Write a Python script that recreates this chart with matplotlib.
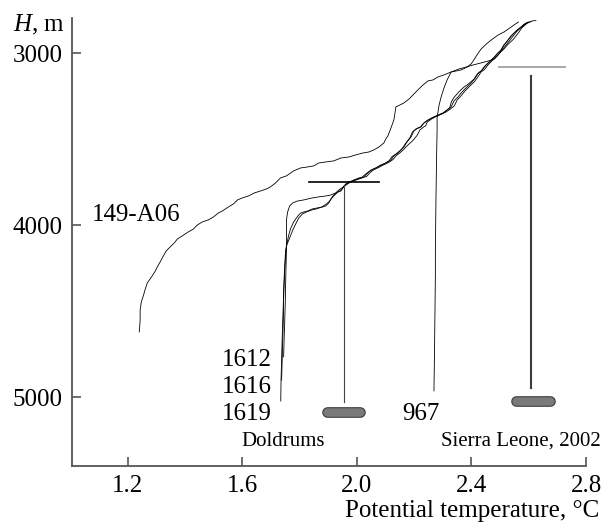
import matplotlib
matplotlib.use('Agg')
import matplotlib.pyplot as plt
import matplotlib.patheffects as pe

plt.rcParams['font.family'] = ['Liberation Serif', 'DejaVu Serif']
plt.rcParams['mathtext.fontset'] = 'custom'
plt.rcParams['mathtext.rm'] = 'Liberation Serif'
plt.rcParams['mathtext.it'] = 'Liberation Serif:italic'

######################################
# Data
# potential temperature (deg C) and depth H (m)

a06_T = [1.240, 1.243, 1.243, 1.247, 1.254, 1.261, 1.268, 1.278, 1.285, 1.296,
         1.303, 1.313, 1.324, 1.334, 1.348, 1.362, 1.373, 1.390, 1.411, 1.429,
         1.443, 1.460, 1.481, 1.499, 1.516, 1.530, 1.551, 1.569, 1.583, 1.600,
         1.621, 1.642, 1.663, 1.684, 1.698, 1.716, 1.733, 1.754, 1.779, 1.803,
         1.828, 1.849, 1.867, 1.891, 1.919, 1.944, 1.972, 1.996, 2.021, 2.042,
         2.059, 2.077, 2.094, 2.101, 2.108, 2.119, 2.129, 2.133, 2.136, 2.150,
         2.164, 2.182, 2.199, 2.213, 2.227, 2.248, 2.266, 2.283, 2.304, 2.329,
         2.347, 2.364, 2.385, 2.399, 2.413, 2.424, 2.434, 2.452, 2.469, 2.493,
         2.514, 2.539, 2.564]
a06_H = [4620, 4551, 4492, 4446, 4411, 4370, 4335, 4312, 4295, 4266,
         4242, 4213, 4179, 4149, 4126, 4103, 4080, 4062, 4039, 4022,
         3998, 3981, 3969, 3952, 3929, 3917, 3894, 3876, 3853, 3841,
         3830, 3812, 3801, 3789, 3777, 3754, 3725, 3713, 3684, 3667,
         3661, 3655, 3638, 3632, 3626, 3609, 3603, 3591, 3580, 3574,
         3562, 3545, 3522, 3498, 3481, 3434, 3388, 3347, 3312, 3301,
         3289, 3266, 3237, 3213, 3190, 3161, 3155, 3138, 3126, 3109,
         3103, 3097, 3080, 3062, 3027, 2998, 2975, 2946, 2923, 2894,
         2876, 2847, 2818]

s1612_T = [1.744, 1.746, 1.748, 1.750, 1.751, 1.752, 1.753, 1.754, 1.754, 1.754,
           1.758, 1.765, 1.776, 1.793, 1.814, 1.839, 1.867, 1.891, 1.909, 1.926,
           1.937, 1.950, 1.962, 1.980, 2.000, 2.016, 2.030, 2.044, 2.060, 2.080,
           2.095, 2.112, 2.122, 2.136, 2.150, 2.160, 2.170, 2.184, 2.194, 2.206,
           2.220, 2.230, 2.244, 2.262, 2.280, 2.298, 2.310, 2.324, 2.330, 2.338,
           2.350, 2.360, 2.374, 2.389, 2.409, 2.420, 2.434, 2.444, 2.455, 2.466,
           2.478, 2.491, 2.502, 2.512, 2.526, 2.537, 2.547, 2.562, 2.572, 2.583,
           2.597]
s1612_H = [4765, 4650, 4551, 4440, 4347, 4270, 4202, 4120, 4057, 3969,
           3923, 3888, 3870, 3859, 3853, 3843, 3835, 3830, 3824, 3812,
           3795, 3780, 3758, 3745, 3733, 3724, 3703, 3686, 3672, 3655,
           3643, 3626, 3602, 3586, 3568, 3550, 3524, 3494, 3458, 3440,
           3432, 3412, 3394, 3376, 3364, 3352, 3336, 3318, 3282, 3259,
           3236, 3218, 3196, 3179, 3150, 3121, 3103, 3080, 3062, 3045,
           3027, 3001, 2984, 2955, 2926, 2902, 2885, 2862, 2850, 2833,
           2820]

s1616_T = [1.737, 1.739, 1.741, 1.743, 1.744, 1.746, 1.748, 1.751, 1.755, 1.765,
           1.776, 1.786, 1.797, 1.810, 1.824, 1.842, 1.859, 1.877, 1.894, 1.905,
           1.916, 1.930, 1.942, 1.956, 1.975, 1.998, 2.018, 2.034, 2.046, 2.058,
           2.075, 2.093, 2.110, 2.126, 2.137, 2.151, 2.163, 2.174, 2.195, 2.210,
           2.220, 2.232, 2.240, 2.246, 2.260, 2.278, 2.293, 2.311, 2.326, 2.340,
           2.350, 2.363, 2.374, 2.384, 2.398, 2.409, 2.422, 2.433, 2.447, 2.457,
           2.468, 2.478, 2.489, 2.502, 2.513, 2.528, 2.547, 2.558, 2.566, 2.575,
           2.583, 2.594, 2.608]
s1616_H = [4901, 4780, 4667, 4550, 4434, 4340, 4260, 4173, 4115, 4074,
           4028, 3993, 3958, 3934, 3923, 3911, 3905, 3894, 3876, 3859,
           3835, 3812, 3798, 3772, 3752, 3736, 3725, 3716, 3694, 3678,
           3665, 3649, 3636, 3618, 3596, 3578, 3560, 3540, 3508, 3478,
           3446, 3430, 3422, 3400, 3383, 3366, 3355, 3342, 3325, 3306,
           3272, 3249, 3226, 3208, 3185, 3168, 3139, 3110, 3092, 3069,
           3051, 3034, 3017, 2993, 2976, 2947, 2918, 2894, 2877, 2854,
           2842, 2825, 2815]

s1619_T = [1.734, 1.735, 1.737, 1.739, 1.741, 1.743, 1.744, 1.746, 1.748, 1.751,
           1.757, 1.761, 1.768, 1.779, 1.786, 1.797, 1.804, 1.814, 1.828, 1.845,
           1.863, 1.880, 1.891, 1.902, 1.909, 1.919, 1.933, 1.944, 1.954, 1.968,
           1.989, 2.007, 2.024, 2.038, 2.049, 2.066, 2.084, 2.101, 2.119, 2.129,
           2.143, 2.154, 2.164, 2.175, 2.189, 2.199, 2.213, 2.224, 2.234, 2.248,
           2.269, 2.283, 2.301, 2.315, 2.329, 2.339, 2.353, 2.364, 2.374, 2.388,
           2.399, 2.413, 2.424, 2.438, 2.448, 2.459, 2.469, 2.480, 2.493, 2.504,
           2.514, 2.528, 2.539, 2.549, 2.564, 2.574, 2.585, 2.599]
s1619_H = [5022, 4900, 4783, 4660, 4551, 4460, 4376, 4300, 4231, 4144,
           4097, 4062, 4021, 3981, 3964, 3940, 3929, 3923, 3917, 3905,
           3899, 3894, 3888, 3870, 3847, 3824, 3806, 3801, 3777, 3754,
           3737, 3725, 3719, 3696, 3679, 3667, 3649, 3638, 3620, 3597,
           3580, 3562, 3545, 3516, 3487, 3452, 3434, 3428, 3405, 3388,
           3370, 3359, 3347, 3330, 3312, 3277, 3254, 3231, 3213, 3190,
           3173, 3144, 3115, 3097, 3074, 3056, 3039, 3022, 2998, 2981,
           2952, 2923, 2899, 2882, 2859, 2847, 2830, 2818]

s967_T = [2.269, 2.270, 2.271, 2.272, 2.273, 2.274, 2.274, 2.275, 2.276, 2.277,
          2.278, 2.279, 2.280, 2.280, 2.283, 2.287, 2.294, 2.304, 2.315, 2.329,
          2.357, 2.382, 2.406, 2.434, 2.459, 2.480, 2.493, 2.504, 2.518, 2.532,
          2.546, 2.557, 2.571, 2.585, 2.596, 2.612, 2.625]
s967_H = [4963, 4850, 4725, 4580, 4434, 4290, 4144, 4000, 3853, 3740,
          3621, 3530, 3447, 3377, 3342, 3301, 3255, 3202, 3155, 3109,
          3091, 3080, 3068, 3056, 3045, 3033, 3010, 2987, 2958, 2929,
          2899, 2876, 2853, 2835, 2824, 2812, 2810]

# Doldrums marker: horizontal bar, vertical line, rounded bar
dold_bar_T = [1.832, 2.077]
dold_bar_H = 3748
dold_line_T = 1.955
dold_line_H = [3767, 5030]
dold_pill_T = [1.894, 2.011]
dold_pill_H = 5084

# Sierra Leone, 2002
sl_bar_T = [2.495, 2.726]
sl_bar_H = 3078
sl_line_T = 2.609
sl_line_H = [3130, 4948]
sl_pill_T = [2.557, 2.676]
sl_pill_H = 5022

xticks = [1.2, 1.6, 2.0, 2.4, 2.8]
xtick_labels = ['1.2', '1.6', '2.0', '2.4', '2.8']
yticks = [3000, 4000, 5000]
######################################

fig = plt.figure(figsize=(6.05, 5.23), dpi=100)
ax = fig.add_axes([0.119, 0.1096, 0.8496, 0.856])

prof = dict(color='black', lw=0.6)
ax.plot(a06_T, a06_H, **prof)
ax.plot(s1612_T, s1612_H, **prof)
ax.plot(s1616_T, s1616_H, **prof)
ax.plot(s1619_T, s1619_H, **prof)
ax.plot(s967_T, s967_H, **prof)

# Doldrums
ax.plot(dold_bar_T, [dold_bar_H, dold_bar_H], color='black', lw=1.2)
ax.plot([dold_line_T, dold_line_T], dold_line_H, color='#444444', lw=0.8)
pill = [pe.Stroke(linewidth=7.6, foreground='#2a2a2a'), pe.Normal()]
ax.plot(dold_pill_T, [dold_pill_H, dold_pill_H], color='#7a7a7a', lw=6.2,
        solid_capstyle='round', path_effects=pill)

# Sierra Leone
ax.plot(sl_bar_T, [sl_bar_H, sl_bar_H], color='#a0a0a0', lw=1.3)
ax.plot([sl_line_T, sl_line_T], sl_line_H, color='#3a3a3a', lw=1.5)
ax.plot(sl_pill_T, [sl_pill_H, sl_pill_H], color='#7a7a7a', lw=6.2,
        solid_capstyle='round', path_effects=pill)

ax.set_xlim(1.005, 2.8)
ax.set_ylim(5398, 2795)

for s in ['top', 'right']:
    ax.spines[s].set_visible(False)
for s in ['left', 'bottom']:
    ax.spines[s].set_color('#555555')
    ax.spines[s].set_linewidth(1.3)

ax.set_xticks(xticks)
ax.set_xticklabels(xtick_labels)
ax.set_yticks(yticks)
ax.tick_params(direction='in', length=6.5, width=1.2, color='#555555',
               labelsize=18, pad=7)

# labels
fs = 18
ax.text(1.074, 3973, '149-A06', fontsize=fs, va='baseline')
ax.text(1.704, 4818, '1612', fontsize=fs, ha='right', va='baseline')
ax.text(1.704, 4978, '1616', fontsize=fs, ha='right', va='baseline')
ax.text(1.704, 5132, '1619', fontsize=fs, ha='right', va='baseline')
ax.text(2.160, 5132, '967', fontsize=fs, va='baseline')
ax.text(1.596, 5283, 'Doldrums', fontsize=15, va='baseline')
ax.text(2.851, 5283, 'Sierra Leone, 2002', fontsize=15, ha='right',
        va='baseline', clip_on=False)

fig.text(0.021, 0.9394, r'$\mathit{H}$, m', fontsize=fs, va='baseline')
fig.text(0.990, 0.0115, 'Potential temperature, °C', fontsize=fs,
         ha='right', va='baseline')

fig.savefig('out.png', dpi=100)
